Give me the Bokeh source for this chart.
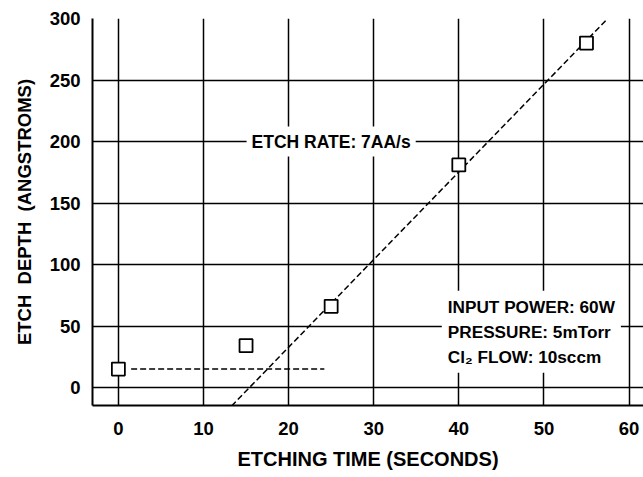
from bokeh.plotting import figure
from bokeh.models import Label, Title, FixedTicker
from bokeh.embed import file_html
from bokeh.resources import INLINE

# data
time_s = [0, 15, 25, 40, 55]
depth_a = [15, 34, 66, 181, 280]
fit_time = [13.3, 57.5]
fit_depth = [-15, 300]
base_time = [1.5, 24.2]
base_depth = [15, 15]
x_ticks = [0, 10, 20, 30, 40, 50, 60]
y_ticks = [0, 50, 100, 150, 200, 250, 300]

FONT = "Liberation Sans"
NB = "\u00a0"

p = figure(width=643, height=477, x_range=(-3.04, 61.7), y_range=(-14.6, 300),
           output_backend="svg", toolbar_location=None,
           min_border_left=90, min_border_top=18, min_border_right=0, min_border_bottom=70)
p.outline_line_color = None
p.background_fill_color = "white"
p.border_fill_color = "white"

for ax, ticks in ((p.xaxis, x_ticks), (p.yaxis, y_ticks)):
    ax.ticker = FixedTicker(ticks=ticks)
    ax.major_tick_out = 0
    ax.major_tick_in = 0
    ax.minor_tick_out = 0
    ax.minor_tick_in = 0
    ax.axis_line_width = 2
    ax.axis_line_color = "black"
    ax.major_label_text_font = FONT
    ax.major_label_text_font_style = "bold"
    ax.major_label_text_font_size = "18.5px"
    ax.major_label_text_color = "black"
p.xaxis.major_label_standoff = 16
p.yaxis.major_label_standoff = 12

p.xgrid.ticker = FixedTicker(ticks=x_ticks)
p.ygrid.ticker = FixedTicker(ticks=y_ticks)
for g in (p.xgrid, p.ygrid):
    g.grid_line_color = "black"
    g.grid_line_width = 1.5

p.line(base_time, base_depth, line_color="black", line_width=1.5, line_dash="6 3")
p.line(fit_time, fit_depth, line_color="black", line_width=1.5, line_dash="6 3")
p.scatter(time_s, depth_a, marker="square", size=13, fill_color="white",
          line_color="black", line_width=1.8)

p.add_layout(Label(x=25, y=200, text="ETCH RATE: 7AA/s", text_align="center",
                   text_baseline="middle", text_font=FONT, text_font_style="bold",
                   text_font_size="17.5px", text_color="black",
                   background_fill_color="white", padding=5))
p.add_layout(Label(x=38.0, y=45.3, text="INPUT POWER: 60W\nPRESSURE: 5mTorr\nCl\u2082 FLOW: 10sccm",
                   text_align="left", text_baseline="middle", text_font=FONT,
                   text_font_style="bold", text_font_size="17.2px", text_color="black",
                   text_line_height=1.25, background_fill_color="white", padding=6))

p.add_layout(Title(text="ETCH" + NB + NB + "DEPTH" + NB + NB + "(ANGSTROMS)", align="center",
                   offset=38, text_font=FONT, text_font_style="bold", text_font_size="18.5px",
                   text_color="black", standoff=23), "left")
p.add_layout(Title(text="ETCHING TIME (SECONDS)", align="center", offset=10,
                   text_font=FONT, text_font_style="bold", text_font_size="20px",
                   text_color="black", standoff=16), "below")

open("out.html", "w").write(file_html(p, INLINE))
